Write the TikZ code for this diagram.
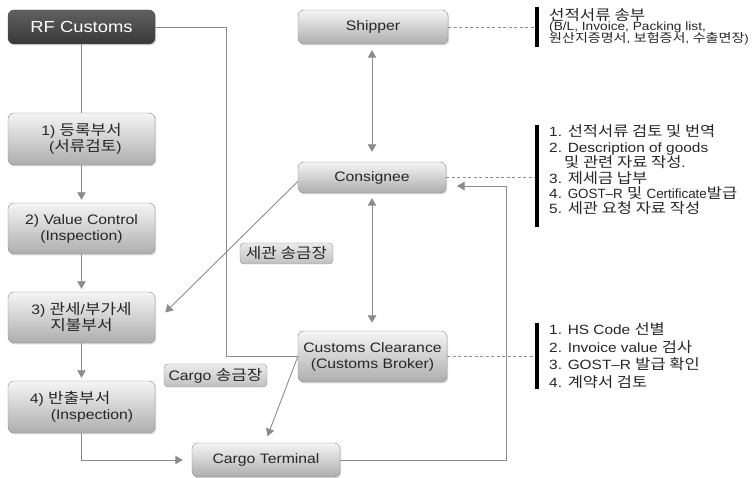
\documentclass[tikz,border=0pt]{standalone}
\usepackage{fontspec}
\setmainfont{Liberation Sans}[FakeStretch=1.15]
\newfontfamily\krf{Noto Sans CJK KR}[FakeStretch=1.15, Scale=1.07]
\newfontfamily\narrowf{Liberation Sans}
\newcommand\kr[1]{{\krf #1}}
\newcommand\nrw[1]{{\narrowf #1}}
\usetikzlibrary{arrows.meta,shadows,calc}
\begin{document}
\begin{tikzpicture}[x=1pt,y=-1pt,
  box/.style={rounded corners=6pt, draw=black!45, top color=black!4, bottom color=black!32,
    minimum width=147pt, inner sep=1pt, align=center, font=\fontsize{13.7}{16}\selectfont, text=black!85,
    drop shadow={opacity=0.3, shadow xshift=1.2pt, shadow yshift=-1.5pt}},
  darkbox/.style={box, draw=black!70, top color=black!62, bottom color=black!78, text=white,
    font=\fontsize{16}{18}\selectfont},
  tagbox/.style={rounded corners=4pt, draw=black!45, top color=black!8, bottom color=black!25,
    inner sep=0pt, font=\fontsize{13.7}{16}\selectfont, text=black!85},
  conn/.style={draw=black!45, line width=0.9pt},
  arr/.style={conn, -{Triangle[width=8.5pt,length=7.5pt]}},
  darr/.style={conn, {Triangle[width=8.5pt,length=7.5pt]}-{Triangle[width=8.5pt,length=7.5pt]}},
  dashline/.style={draw=black!45, line width=0.7pt, dash pattern=on 3pt off 2.5pt},
  bar/.style={fill=black, inner sep=0pt, minimum width=3.5pt},
  note/.style={anchor=base west, inner sep=0pt, font=\fontsize{13.4}{16}\selectfont, text=black!85}
]
\useasboundingbox (0,0) rectangle (756,478);

% boxes
\node[darkbox, minimum width=147pt, minimum height=34pt] (rf) at (81.5,27) {RF Customs};
\node[box, minimum width=150pt, minimum height=34pt] (ship) at (373,27) {Shipper};
\node[box, minimum height=52pt, align=right] (b1) at (81.5,139) {1) \kr{등록부서}\\(\kr{서류검토})};
\node[box, minimum height=51pt] (b2) at (81.5,228.5) {2) Value Control\\(Inspection)};
\node[box, minimum height=51pt] (b3) at (81.5,317.5) {3) \kr{관세}/\kr{부가세}\\\kr{지불부서}};
\node[box, minimum height=52pt, align=left] (b4) at (81.5,407) {4) \kr{반출부서}\\\hspace*{21pt}(Inspection)};
\node[box, minimum width=148pt, minimum height=31pt] (cons) at (372,177.5) {Consignee};
\node[box, minimum width=149pt, minimum height=51pt] (cc) at (372.5,356.5) {Customs Clearance\\(Customs Broker)};
\node[box, minimum width=148pt, minimum height=34pt] (ct) at (266,460) {Cargo Terminal};
\node[tagbox, minimum width=93pt, minimum height=21pt] (t1) at (286.5,253.5) {\kr{세관 송금장}};
\node[tagbox, minimum width=103pt, minimum height=23pt] (t2) at (215.5,375.5) {Cargo \kr{송금장}};

% bars
\node[bar, minimum height=40pt] (bar1) at (537,27) {};
\node[bar, minimum height=102pt] (bar2) at (537,176) {};
\node[bar, minimum height=66pt] (bar3) at (537,356) {};

% notes
\node[note, font=\fontsize{13.6}{18}\selectfont] (n11) at (549,20.5) {\kr{선적서류 송부}};
\node[note, font=\fontsize{11.9}{15}\selectfont] (n12) at (549,31) {(B/L, Invoice, Packing list,};
\node[note, font=\fontsize{11.4}{15}\selectfont] (n13) at (549,43) {\kr{원산지증명서}, \kr{보험증서}, \kr{수출면장})};

\node[note] (n21) at (549,137) {1. \kr{선적서류 검토 및 번역}};
\node[note] (n22) at (549,152.4) {2. Description of goods};
\node[note] (n23) at (564,167.8) {\kr{및 관련 자료 작성}.};
\node[note] (n24) at (549,183.2) {3. \kr{제세금 납부}};
\node[note] (n25) at (549,198.6) {4. \nrw{GOST\textendash R} \kr{및} \nrw{Certificate}\kr{발급}};
\node[note] (n26) at (549,214) {5. \kr{세관 요청 자료 작성}};

\node[note] (n31) at (549,335) {1. HS Code \kr{선별}};
\node[note] (n32) at (549,352.5) {2. Invoice value \kr{검사}};
\node[note] (n33) at (549,370) {3. GOST\textendash R \kr{발급 확인}};
\node[note] (n34) at (549,387.5) {4. \kr{계약서 검토}};

% dashed links
\draw[dashline] (ship.east) -- (ship.east -| bar1.west);
\draw[dashline] (cons.east) -- (cons.east -| bar2.west);
\draw[dashline] (cc.east) -- (cc.east -| bar3.west);

% connectors
\draw[conn] (rf.south) -- (b1.north);
\coordinate (k1) at (226,356.5);
\draw[conn] (rf.east) -| (k1) -- (cc.west);
\draw[arr, shorten >=3pt] (b1.south) -- (b2.north);
\draw[arr, shorten >=3pt] (b2.south) -- (b3.north);
\draw[arr, shorten >=3pt] (b3.south) -- (b4.north);
\draw[arr, shorten >=9pt] (b4.south) |- (ct.west);
\draw[arr] ($(cons.west)+(0,4)$) -- ($(b3.east)+(10,-5)$);
\draw[arr, shorten >=7pt] (cc.west) -- ($(ct.north)+(-1,0)$);
\draw[darr, shorten <=6pt, shorten >=10pt] (cons.north |- ship.south) -- (cons.north);
\draw[darr, shorten <=5pt, shorten >=8pt] (cons.south) -- (cons.south |- cc.north);
\coordinate (k2) at (506,186);
\coordinate (k3) at (457,186);
\draw[arr] (ct.east) -| (k2) -- (k3);
\end{tikzpicture}
\end{document}
